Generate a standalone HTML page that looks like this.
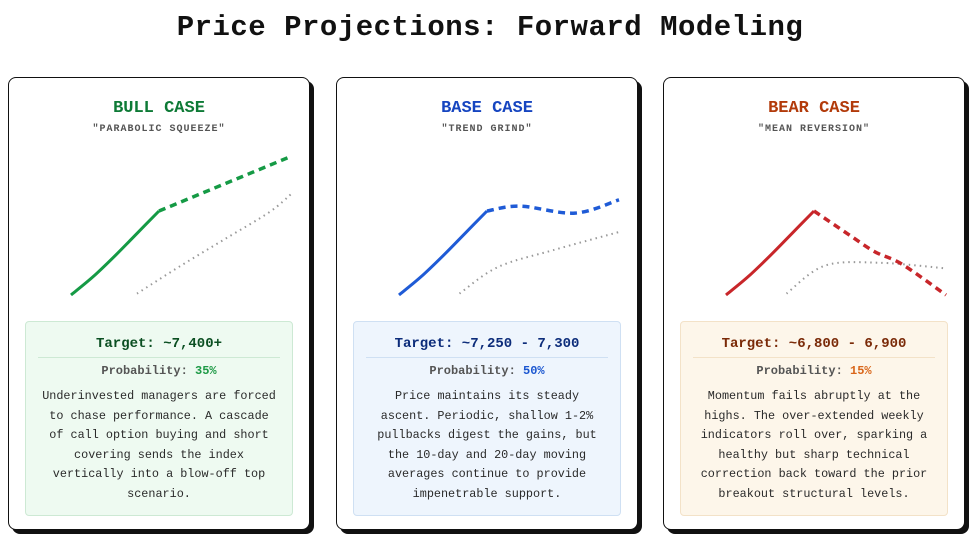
<!DOCTYPE html>
<html><head><meta charset="utf-8">
<style>
body{margin:0;width:980px;height:546px;background:#fff;font-family:"Liberation Mono",monospace;position:relative;overflow:hidden}
h1{position:absolute;left:0;top:11px;width:980px;text-align:center;margin:0;font-size:29px;font-weight:bold;color:#111;letter-spacing:0.5px}
.card{position:absolute;top:77px;width:300px;height:451px;border:1.5px solid #111;border-radius:8px;background:#fff;box-shadow:4px 4px 0 #111}
.card h2{position:absolute;top:21px;left:0;width:100%;text-align:center;margin:0;font-size:17px;font-weight:bold}
.sub{position:absolute;top:46px;left:0;width:100%;text-align:center;font-size:10px;color:#555;font-weight:bold;letter-spacing:1px}
svg{position:absolute;left:0;top:0}
.info{position:absolute;left:16px;top:243px;width:266px;height:193px;border:1px solid;border-radius:4px}
.tgt{position:absolute;top:14px;left:0;width:100%;text-align:center;font-size:14px;font-weight:bold}
.div{position:absolute;top:35px;left:12px;right:12px;height:1px}
.prob{position:absolute;top:42px;left:0;width:100%;text-align:center;font-size:12px;color:#555;font-weight:bold}
.body{position:absolute;top:65px;left:15px;right:15px;text-align:center;font-size:11.8px;line-height:19.5px;color:#2a2a2a}
</style></head><body>
<h1>Price Projections: Forward Modeling</h1>

<div class="card" style="left:8px">
<h2 style="color:#0e7a36">BULL CASE</h2>
<div class="sub">"PARABOLIC SQUEEZE"</div>
<svg id="c0" width="300" height="240"></svg>
<div class="info" style="background:#eefaf1;border-color:#cde9d4">
<div class="tgt" style="color:#0b4f22">Target: ~7,400+</div>
<div class="div" style="background:#cde9d4"></div>
<div class="prob">Probability: <span style="color:#1e9a46">35%</span></div>
<div class="body">Underinvested managers are forced to chase performance. A cascade of call option buying and short covering sends the index vertically into a blow-off top scenario.</div>
</div></div>

<div class="card" style="left:336px">
<h2 style="color:#1645c0">BASE CASE</h2>
<div class="sub">"TREND GRIND"</div>
<svg id="c1" width="300" height="240"></svg>
<div class="info" style="background:#eef5fd;border-color:#cfe0f3">
<div class="tgt" style="color:#0c2c7a">Target: ~7,250 - 7,300</div>
<div class="div" style="background:#cfe0f3"></div>
<div class="prob">Probability: <span style="color:#1a56d0">50%</span></div>
<div class="body">Price maintains its steady ascent. Periodic, shallow 1-2% pullbacks digest the gains, but the 10-day and 20-day moving averages continue to provide impenetrable support.</div>
</div></div>

<div class="card" style="left:663px">
<h2 style="color:#b23a0a">BEAR CASE</h2>
<div class="sub">"MEAN REVERSION"</div>
<svg id="c2" width="300" height="240"></svg>
<div class="info" style="background:#fdf6ea;border-color:#f3e2c8">
<div class="tgt" style="color:#7a2a08">Target: ~6,800 - 6,900</div>
<div class="div" style="background:#f3e2c8"></div>
<div class="prob">Probability: <span style="color:#d9661a">15%</span></div>
<div class="body">Momentum fails abruptly at the highs. The over-extended weekly indicators roll over, sparking a healthy but sharp technical correction back toward the prior breakout structural levels.</div>
</div></div>

<script>
// x = time index (0..20), values = relative price level (0..100)
const histX = [0, 2, 4, 6, 8];
const bullHist = [0, 13, 28, 44, 60];
const bullProjX = [8, 12, 16, 20];
const bullProj = [60, 73, 86, 99];
const bullMaX = [6, 10, 14, 18, 20];
const bullMa = [1, 21, 40, 59, 72];

const baseHist = [0, 13, 28, 44, 60];
const baseProjX = [8, 11, 16, 20];
const baseProj = [60, 63.5, 58.5, 68];
const baseMaX = [5.5, 9, 14, 20];
const baseMa = [1, 20, 32, 45];

const bearHist = [0, 13, 28, 44, 60];
const bearProjX = [8, 11, 13.5, 16, 20];
const bearProj = [60, 44, 31, 22, 0];
const bearMaX = [5.5, 9, 14, 20];
const bearMa = [1, 21, 23, 19];

const x = i => 62 + i * 11;
const y = v => 217 - v * 1.4;

function smooth(xs, vs){
  const p = xs.map((a,k)=>[x(a), y(vs[k])]);
  let d = 'M'+p[0][0]+','+p[0][1];
  for(let k=0;k<p.length-1;k++){
    const p0=p[k-1]||p[k], p1=p[k], p2=p[k+1], p3=p[k+2]||p2;
    const c1=[p1[0]+(p2[0]-p0[0])/6, p1[1]+(p2[1]-p0[1])/6];
    const c2=[p2[0]-(p3[0]-p1[0])/6, p2[1]-(p3[1]-p1[1])/6];
    d+=' C'+c1+' '+c2+' '+p2;
  }
  return d;
}
function line(svg, xs, vs, color, w, dash, name){
  const el=document.createElementNS('http://www.w3.org/2000/svg','path');
  el.setAttribute('d', smooth(xs,vs));
  el.setAttribute('fill','none');
  el.setAttribute('stroke',color);
  el.setAttribute('stroke-width',w);
  if(dash) el.setAttribute('stroke-dasharray',dash);
  
  
  svg.appendChild(el);
}
const cfg = [
  ['c0', bullHist, bullProjX, bullProj, bullMaX, bullMa, '#159a45', 'bull'],
  ['c1', baseHist, baseProjX, baseProj, baseMaX, baseMa, '#1f5bd6', 'base'],
  ['c2', bearHist, bearProjX, bearProj, bearMaX, bearMa, '#c8262a', 'bear']
];
cfg.forEach(c=>{
  const s=document.getElementById(c[0]);
  line(s, c[4], c[5], '#999', 2, '1.5 4', c[7]+'-moving-average-line');
  line(s, histX, c[1], c[6], 3, null, c[7]+'-history-line');
  line(s, c[2], c[3], c[6], 3.5, '7 5', c[7]+'-projection-line');
});
</script>
</body></html>
